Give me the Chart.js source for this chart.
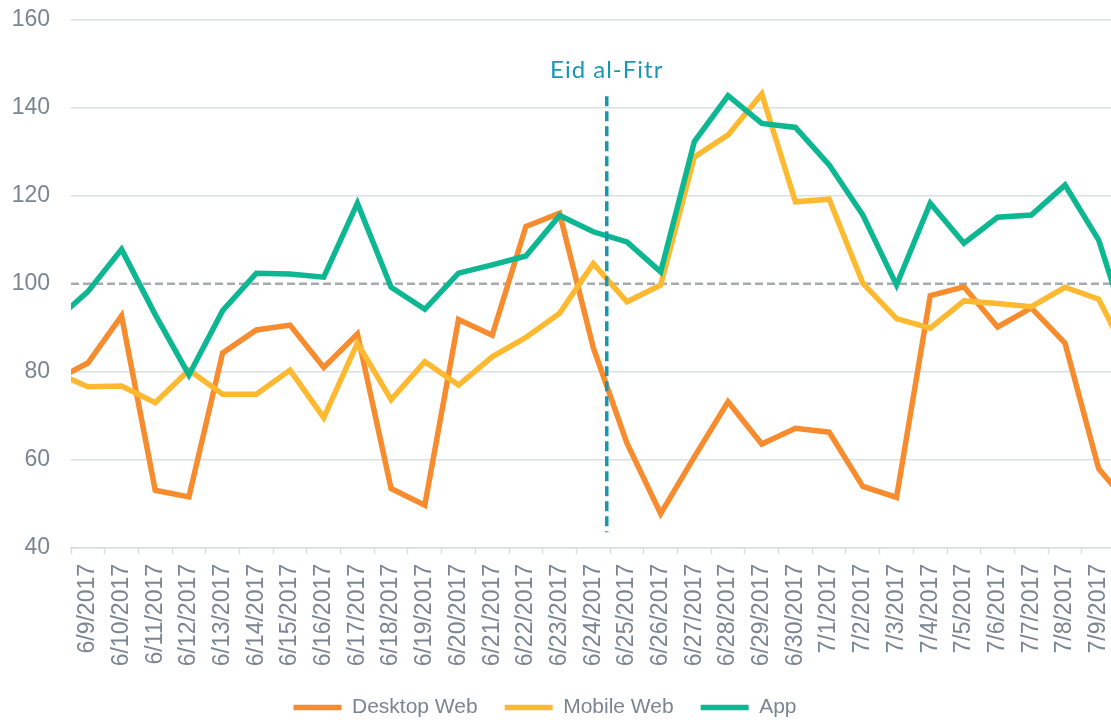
<!DOCTYPE html>
<html lang="en">
<head>
<meta charset="UTF-8">
<title>Traffic around Eid al-Fitr</title>
<script src="https://cdn.jsdelivr.net/npm/chart.js"></script>
<style>
  html, body { margin: 0; padding: 0; background: #fff; overflow: hidden; }
  /* wider than the window: the plot runs past the right edge, as in the source */
  #wrap { width: 1170px; height: 720px; position: relative; }
</style>
</head>
<body>
<div id="wrap"><canvas id="trafficChart"></canvas></div>
<script>
// first and last day sit just outside the visible window (chart is cropped)
const dates = [
  '6/8/2017', '6/9/2017', '6/10/2017', '6/11/2017', '6/12/2017', '6/13/2017', '6/14/2017',
  '6/15/2017', '6/16/2017', '6/17/2017', '6/18/2017', '6/19/2017', '6/20/2017', '6/21/2017',
  '6/22/2017', '6/23/2017', '6/24/2017', '6/25/2017', '6/26/2017', '6/27/2017', '6/28/2017',
  '6/29/2017', '6/30/2017', '7/1/2017', '7/2/2017', '7/3/2017', '7/4/2017', '7/5/2017',
  '7/6/2017', '7/7/2017', '7/8/2017', '7/9/2017', '7/10/2017'
];
const firstShown = '6/9/2017';

const desktopWeb = [78, 82, 92.7, 53.1, 51.6, 84.3, 89.5, 90.6, 81, 88.6, 53.5, 49.7, 91.9, 88.3,
  113, 116, 85.5, 63.8, 47.8, 60.7, 73.2, 63.6, 67.2, 66.3, 54, 51.5, 97.3, 99.3, 90.2, 94.5, 86.5, 58, 49];
const mobileWeb = [80, 76.6, 76.8, 73, 80.4, 74.9, 74.9, 80.4, 69.6, 86.5, 73.7, 82.3, 77, 83.4,
  87.8, 93.3, 104.6, 95.9, 99.7, 128.8, 133.8, 143.1, 118.6, 119.2, 100.1, 92.1, 89.9, 96.1, 95.5, 94.8, 99.2, 96.5, 81.5];
const app = [91.4, 98.2, 107.8, 93, 79.3, 93.9, 102.4, 102.2, 101.5, 118.3, 99.2, 94.2, 102.4, 104.3,
  106.3, 115.5, 111.8, 109.5, 102.7, 132.3, 142.7, 136.4, 135.5, 127, 115.6, 99.7, 118.3, 109.2, 115.1, 115.6, 122.4, 109.9, 86];

const yMin = 40, yMax = 160, yStep = 20;
const baseline = 100;

// Eid marker: sits between 6/24 (index 16) and 6/25 (index 17)
const eidLabel = 'Eid al-Fitr';
const eidAt = 16.4;
const eidTop = 142.6;
const eidBottom = 43.6;

const grey = '#7b8591';
const tickFont = { family: "'Liberation Sans', Arial, sans-serif", size: 23 };

const guides = {
  id: 'guides',
  beforeDatasetsDraw(chart) {
    const { ctx, chartArea, scales: { y } } = chart;
    const yy = y.getPixelForValue(baseline);
    ctx.save();
    ctx.strokeStyle = '#a7aaaf';
    ctx.lineWidth = 2.5;
    ctx.setLineDash([8, 4]);
    ctx.beginPath();
    ctx.moveTo(chartArea.left, yy);
    ctx.lineTo(chartArea.right, yy);
    ctx.stroke();
    ctx.restore();
  },
  afterDatasetsDraw(chart) {
    const { ctx, scales: { x, y } } = chart;
    const xx = x.getPixelForValue(eidAt);
    const top = y.getPixelForValue(eidTop);
    const bottom = y.getPixelForValue(eidBottom);
    ctx.save();
    ctx.strokeStyle = '#1a97b0';
    ctx.lineWidth = 3.5;
    ctx.setLineDash([10, 5]);
    ctx.beginPath();
    ctx.moveTo(xx, top);
    ctx.lineTo(xx, bottom);
    ctx.stroke();
    ctx.setLineDash([]);
    ctx.fillStyle = '#1a97b0';
    ctx.font = "24px Lato, 'Open Sans', sans-serif";
    ctx.letterSpacing = '1px';
    ctx.textAlign = 'center';
    ctx.textBaseline = 'alphabetic';
    ctx.fillText(eidLabel, xx, top - 18);
    ctx.restore();
  }
};

const line = (label, data, color, order) => ({
  label, data, order,
  borderColor: color,
  backgroundColor: color,
  borderWidth: 5.5,
  borderCapStyle: 'round',
  pointRadius: 0,
  pointHoverRadius: 0,
  tension: 0,
  clip: 0
});

new Chart(document.getElementById('trafficChart'), {
  type: 'line',
  data: {
    labels: dates,
    datasets: [
      line('Desktop Web', desktopWeb, '#f68c2e', 3),
      line('Mobile Web', mobileWeb, '#fdba30', 2),
      line('App', app, '#0db791', 1)
    ]
  },
  options: {
    responsive: true,
    maintainAspectRatio: false,
    animation: false,
    // negative left padding pulls the legend's centre back under the visible part
    layout: { padding: { top: 19.5, bottom: -8, left: -80, right: 0 } },
    plugins: {
      tooltip: { enabled: false },
      legend: {
        position: 'bottom',
        labels: {
          usePointStyle: true,
          pointStyle: 'line',
          pointStyleWidth: 48,
          padding: 27,
          color: grey,
          font: { family: "'Liberation Sans', Arial, sans-serif", size: 21 },
          sort: (a, b) => a.datasetIndex - b.datasetIndex
        }
      }
    },
    scales: {
      x: {
        type: 'category',
        min: firstShown,
        offset: true,
        grid: {
          offset: true,
          drawOnChartArea: false,
          drawTicks: true,
          tickLength: 6,
          tickColor: '#d9dce1',
          tickWidth: 1.5
        },
        border: { display: true, color: '#d9dce1', width: 1.5 },
        ticks: {
          autoSkip: false,
          minRotation: 90,
          maxRotation: 90,
          padding: 10,
          color: grey,
          font: tickFont
        },
        afterFit(scale) { scale.height = 122; }
      },
      y: {
        min: yMin,
        max: yMax,
        ticks: { stepSize: yStep, padding: 0, color: grey, font: tickFont },
        grid: {
          drawTicks: true,
          tickLength: 21,
          tickColor: 'rgba(0,0,0,0)',
          lineWidth: 1.5,
          color: c => (c.tick && c.tick.value === baseline) ? 'rgba(0,0,0,0)' : '#dcdfe3'
        },
        border: { display: false },
        afterFit(scale) { scale.width = 151; }
      }
    }
  },
  plugins: [guides]
});
</script>
</body>
</html>
